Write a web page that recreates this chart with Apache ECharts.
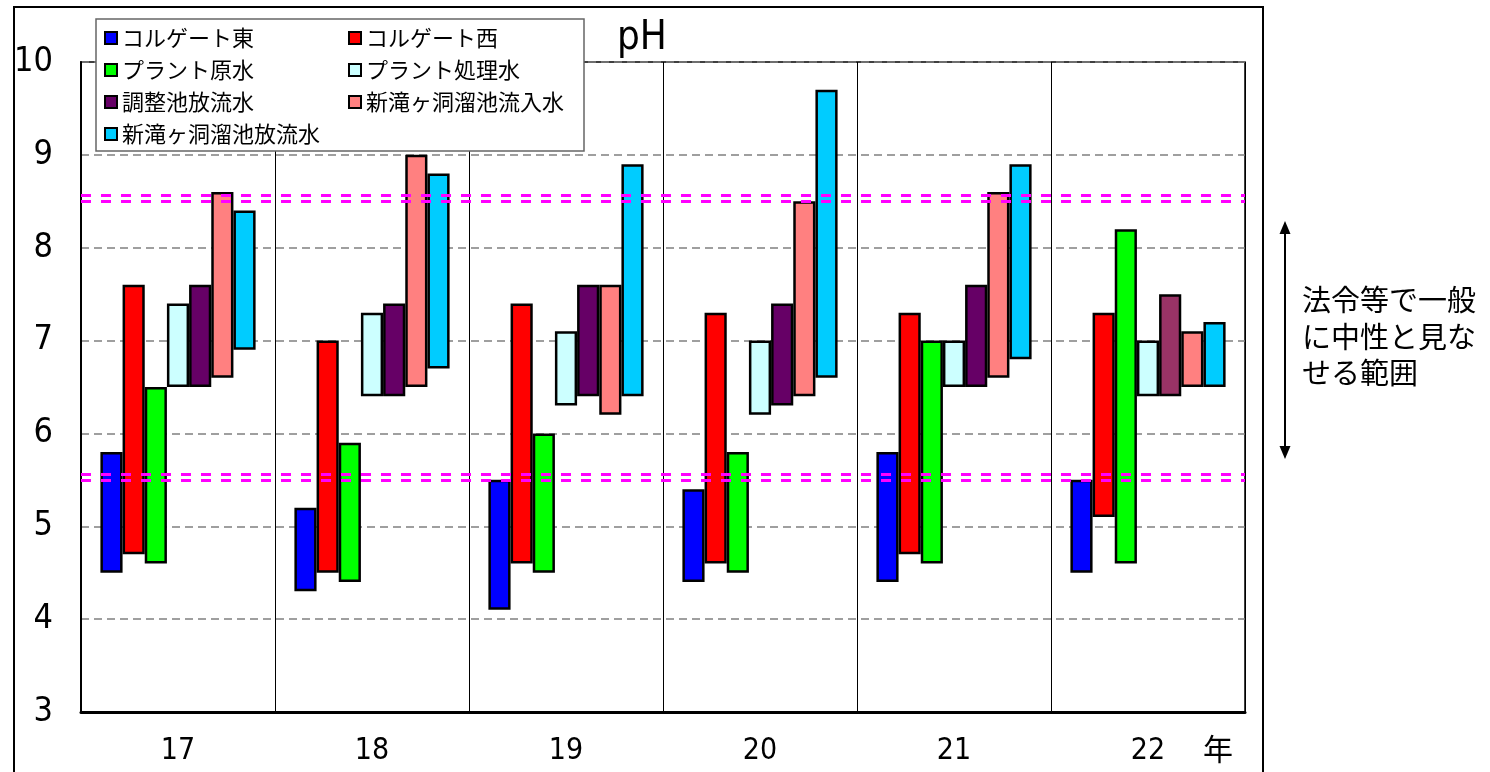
<!DOCTYPE html>
<html>
<head>
<meta charset="utf-8">
<script src="https://cdn.jsdelivr.net/npm/echarts@6/dist/echarts.min.js"></script>
<style>
html,body{margin:0;padding:0;background:#fff;}
#chart{width:1490px;height:772px;}
</style>
</head>
<body>
<div id="chart"></div>
<script>
// ---- data ----
const years = ['17', '18', '19', '20', '21', '22'];
const seriesNames = ['コルゲート東', 'コルゲート西', 'プラント原水', 'プラント処理水', '調整池放流水', '新滝ヶ洞溜池流入水', '新滝ヶ洞溜池放流水'];
const eastMin   = [4.5, 4.3, 4.1, 4.4, 4.4, 4.5];
const eastMax   = [5.8, 5.2, 5.5, 5.4, 5.8, 5.5];
const westMin   = [4.7, 4.5, 4.6, 4.6, 4.7, 5.1];
const westMax   = [7.6, 7.0, 7.4, 7.3, 7.3, 7.3];
const rawMin    = [4.6, 4.4, 4.5, 4.5, 4.6, 4.6];
const rawMax    = [6.5, 5.9, 6.0, 5.8, 7.0, 8.2];
const treatMin  = [6.5, 6.4, 6.3, 6.2, 6.5, 6.4];
const treatMax  = [7.4, 7.3, 7.1, 7.0, 7.0, 7.0];
const pondMin   = [6.5, 6.4, 6.4, 6.3, 6.5, 6.4];
const pondMax   = [7.6, 7.4, 7.6, 7.4, 7.6, 7.5];
const inflowMin = [6.6, 6.5, 6.2, 6.4, 6.6, 6.5];
const inflowMax = [8.6, 9.0, 7.6, 8.5, 8.6, 7.1];
const outMin    = [6.9, 6.7, 6.4, 6.6, 6.8, 6.5];
const outMax    = [8.4, 8.8, 8.9, 9.7, 8.9, 7.2];
const neutralLimits = [5.5, 8.5];
const yTicks = [3, 4, 5, 6, 7, 8, 9, 10];

// ---- styles ----
const colors = ['#0000FF', '#FF0000', '#00FF00', '#CCFFFF', '#660066', '#FF8080', '#00CCFF'];
const mins = [eastMin, westMin, rawMin, treatMin, pondMin, inflowMin, outMin];
const maxs = [eastMax, westMax, rawMax, treatMax, pondMax, inflowMax, outMax];
const narrowFont = '"Liberation Sans Narrow", "DejaVu Sans Condensed", "Liberation Sans", sans-serif';
const jpFont = '"Noto Sans CJK JP", sans-serif';
const doubleOffset = 0.06;

const series = [];
seriesNames.forEach(function (name, i) {
  series.push({
    name: '_base' + i,
    type: 'bar',
    stack: 's' + i,
    silent: true,
    itemStyle: { color: 'transparent', borderWidth: 0 },
    data: mins[i].slice()
  });
  const rangeData = mins[i].map(function (lo, k) {
    const v = +(maxs[i][k] - lo).toFixed(3);
    if (i === 4 && k === 5) {
      return { value: v, itemStyle: { color: '#993366' } };
    }
    return v;
  });
  const s = {
    name: name,
    type: 'bar',
    stack: 's' + i,
    itemStyle: { color: colors[i], borderColor: '#000', borderWidth: 2.5 },
    data: rangeData
  };
  if (i === seriesNames.length - 1) {
    const lines = [];
    neutralLimits.forEach(function (v) {
      lines.push({ yAxis: v });
      lines.push({ yAxis: v + doubleOffset });
    });
    s.markLine = {
      silent: true,
      symbol: 'none',
      label: { show: false },
      lineStyle: { color: '#FF00FF', width: 3, type: [10, 10] },
      data: lines
    };
  }
  series.push(s);
});

const chart = echarts.init(document.getElementById('chart'));
chart.setOption({
  animation: false,
  backgroundColor: '#fff',
  title: {
    text: 'pH',
    left: 612,
    top: 14,
    textStyle: { fontFamily: narrowFont, fontSize: 40, fontWeight: 'normal', color: '#000' }
  },
  legend: {
    data: seriesNames,
    left: 96,
    top: 19,
    width: 480,
    orient: 'horizontal',
    padding: [8, 2, 6, 8],
    itemGap: 10,
    itemWidth: 12,
    itemHeight: 12,
    icon: 'rect',
    backgroundColor: '#fff',
    borderColor: '#666',
    borderWidth: 1.5,
    z: 20,
    itemStyle: { borderColor: '#000', borderWidth: 2 },
    textStyle: { fontFamily: jpFont, fontSize: 22, color: '#000', width: 216, lineHeight: 22, padding: [0, 0, 0, 0] }
  },
  grid: {
    left: 81, right: 245, top: 62, bottom: 60,
    show: true, borderColor: '#000', borderWidth: 1.5, backgroundColor: '#fff'
  },
  xAxis: {
    type: 'category',
    data: years,
    axisTick: { show: false },
    axisLine: { lineStyle: { color: '#000', width: 3 } },
    splitLine: { show: true, lineStyle: { color: '#000', width: 1 } },
    axisLabel: { fontFamily: narrowFont, fontSize: 30, color: '#000', margin: 24 }
  },
  yAxis: {
    type: 'value',
    min: yTicks[0],
    max: yTicks[yTicks.length - 1],
    interval: 1,
    axisTick: { show: false },
    axisLine: { show: true, lineStyle: { color: '#000', width: 2 } },
    splitLine: { show: true, lineStyle: { color: '#808080', width: 1.5, type: [8, 5] } },
    axisLabel: { fontFamily: narrowFont, fontSize: 34, color: '#000', margin: 28 }
  },
  series: series.map(function (s) {
    return Object.assign(s, { barCategoryGap: '20%', barGap: '0%' });
  }),
  graphic: [
    {
      type: 'rect', silent: true, z: -1,
      shape: { x: 14, y: 7, width: 1249, height: 800 },
      style: { fill: 'none', stroke: '#000', lineWidth: 2 }
    },
    {
      type: 'text', silent: true, left: 1203, top: 734,
      style: { text: '年', font: '30px ' + jpFont, fill: '#000' }
    },
    {
      type: 'line', silent: true,
      shape: { x1: 1285, y1: 232, x2: 1285, y2: 448 },
      style: { stroke: '#000', lineWidth: 2 }
    },
    {
      type: 'polygon', silent: true,
      shape: { points: [[1285, 221], [1279.5, 234], [1290.5, 234]] },
      style: { fill: '#000' }
    },
    {
      type: 'polygon', silent: true,
      shape: { points: [[1285, 459], [1279.5, 446], [1290.5, 446]] },
      style: { fill: '#000' }
    },
    {
      type: 'text', silent: true, left: 1302, top: 282,
      style: { text: '法令等で一般\nに中性と見な\nせる範囲', font: '29px ' + jpFont, lineHeight: 36.5, fill: '#000' }
    }
  ]
});
</script>
</body>
</html>
